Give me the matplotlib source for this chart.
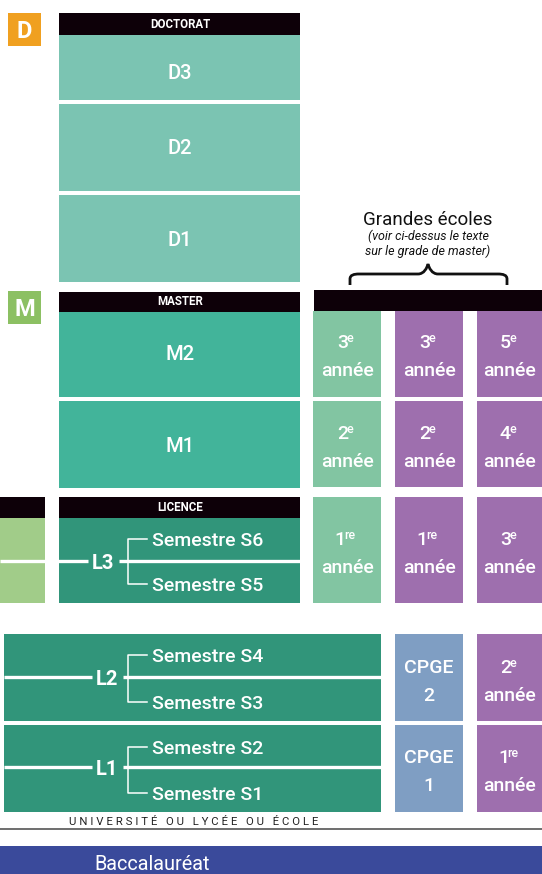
import matplotlib.pyplot as plt
from matplotlib.patches import Rectangle, PathPatch
from matplotlib.path import Path

# Textes du schema
doctorat = ['D3', 'D2', 'D1']
master = ['M2', 'M1']
licence_annees = ['L3', 'L2', 'L1']
semestres = [['Semestre S6', 'Semestre S5'],
             ['Semestre S4', 'Semestre S3'],
             ['Semestre S2', 'Semestre S1']]
ecole_vert = [('3', 'e'), ('2', 'e'), ('1', 're')]
ecole_violet1 = [('3', 'e'), ('2', 'e'), ('1', 're')]
ecole_violet2 = [('5', 'e'), ('4', 'e'), ('3', 'e'), ('2', 'e'), ('1', 're')]
cpge = ['2', '1']

plt.rcParams['font.family'] = ['Roboto', 'DejaVu Sans']
W = 'medium'

c_doc = '#7bc4b2'
c_mas = '#42b49a'
c_lic = '#31957a'
c_clair = '#a1cc89'
c_ge = '#82c5a2'
c_vio = '#9e6fae'
c_cpge = '#7f9ec3'
c_noir = '#0d0008'
c_bac = '#3a4a9b'

fig = plt.figure(figsize=(5.42, 8.74), dpi=100)
ax = fig.add_axes([0, 0, 1, 1])
ax.set_xlim(0, 542)
ax.set_ylim(874, 0)
ax.axis('off')


def boite(x0, y0, x1, y1, couleur):
    ax.add_patch(Rectangle((x0, y0), x1 - x0, y1 - y0, color=couleur, lw=0))


def annee(cx, base, num, sup):
    xs = cx + 3 - len(sup) * 2
    ax.text(xs, base, num, color='white', fontsize=14,
            fontweight=W, ha='right', va='baseline')
    ax.text(xs - 1.5, base - 6, sup, color='white', fontsize=9,
            fontweight=W, ha='left', va='baseline')
    ax.text(cx, base + 28, 'année', color='white', fontsize=14, fontweight=W,
            ha='center', va='baseline')


# badges
boite(8, 13, 41, 46, '#f0a020')
ax.text(24.5, 37.5, 'D', color='white', fontsize=17, fontweight='bold',
        ha='center', va='baseline')
boite(8, 291, 41, 324, '#8cc063')
ax.text(24.5, 315.5, 'M', color='white', fontsize=17, fontweight='bold',
        ha='center', va='baseline')

# doctorat
boite(59, 13, 300, 35, c_noir)
ax.text(180, 28, 'DOCTORAT', color='white', fontsize=8.3, fontweight='bold',
        ha='center', va='baseline')
d_y = [(35, 100), (104, 191), (195, 282)]
d_base = [79, 154, 246]
for lab, (a, b), bl in zip(doctorat, d_y, d_base):
    boite(59, a, 300, b, c_doc)
    ax.text(180, bl, lab, color='white', fontsize=14.5, fontweight=W,
            ha='center', va='baseline')

# master
boite(59, 292, 300, 312, c_noir)
ax.text(180, 305, 'MASTER', color='white', fontsize=8.3, fontweight='bold',
        ha='center', va='baseline')
m_y = [(312, 397), (401, 488)]
m_base = [360, 452]
for lab, (a, b), bl in zip(master, m_y, m_base):
    boite(59, a, 300, b, c_mas)
    ax.text(180, bl, lab, color='white', fontsize=14.5, fontweight=W,
            ha='center', va='baseline')

# grandes ecoles
ax.text(428, 225, 'Grandes écoles', color='#111111', fontsize=13.5,
        ha='center', va='baseline')
ax.text(428, 240, '(voir ci-dessus le texte', color='#111111', fontsize=9,
        style='italic', ha='center', va='baseline')
ax.text(428, 255, 'sur le grade de master)', color='#111111', fontsize=9,
        style='italic', ha='center', va='baseline')
verts = [(350, 285), (350, 279), (350, 275), (354, 274), (359, 274),
         (418, 274), (424, 274), (427, 268), (428, 264),
         (429, 268), (432, 274), (438, 274),
         (498, 274), (503, 274), (507, 275), (507, 279), (507, 285)]
codes = [Path.MOVETO, Path.LINETO, Path.CURVE4, Path.CURVE4, Path.CURVE4,
         Path.LINETO, Path.CURVE4, Path.CURVE4, Path.CURVE4,
         Path.CURVE4, Path.CURVE4, Path.CURVE4,
         Path.LINETO, Path.CURVE4, Path.CURVE4, Path.CURVE4, Path.LINETO]
ax.add_patch(PathPatch(Path(verts, codes), fill=False, ec='#111111', lw=2))
boite(314, 290, 542, 311, c_noir)

ge_y = [(311, 397), (401, 487), (497, 603)]
ge_base = [348, 439, 545]
for (n, s), (a, b), bl in zip(ecole_vert, ge_y, ge_base):
    boite(313, a, 381, b, c_ge)
    annee(347, bl, n, s)
for (n, s), (a, b), bl in zip(ecole_violet1, ge_y, ge_base):
    boite(395, a, 463, b, c_vio)
    annee(429, bl, n, s)

bas_y = [(634, 721), (725, 812)]
bas_base = [673, 763]
for (n, s), (a, b), bl in zip(ecole_violet2, ge_y + bas_y, ge_base + bas_base):
    boite(477, a, 545, b, c_vio)
    annee(510, bl, n, s)

for lab, (a, b), bl in zip(cpge, bas_y, bas_base):
    boite(395, a, 463, b, c_cpge)
    ax.text(429, bl, 'CPGE', color='white', fontsize=14, fontweight=W,
            ha='center', va='baseline')
    ax.text(429, bl + 28, lab, color='white', fontsize=14, fontweight=W,
            ha='center', va='baseline')

# licence
boite(0, 497, 45, 518, c_noir)
boite(0, 518, 45, 603, c_clair)
boite(59, 497, 300, 518, c_noir)
ax.text(180, 511, 'LICENCE', color='white', fontsize=8.3, fontweight='bold',
        ha='center', va='baseline')
boite(59, 518, 300, 603, c_lic)
boite(4, 634, 381, 721, c_lic)
boite(4, 725, 381, 812, c_lic)

l_ligne = [561, 677, 767]
l_fin = [300, 381, 381]
l_gauche = [(0, 88, 119), (4, 92, 123), (4, 92, 123)]
l_cx = [103, 107, 107]
l_acc = [(539, 584), (655, 702), (747, 793)]
for i, lab in enumerate(licence_annees):
    y = l_ligne[i]
    g0, g1, g2 = l_gauche[i]
    ax.plot([g0, g1], [y, y], color='white', lw=2.4, solid_capstyle='butt')
    ax.plot([g2, l_fin[i]], [y, y], color='white', lw=2.4, solid_capstyle='butt')
    ax.text(l_cx[i], y + 8, lab, color='white', fontsize=14.5, fontweight='bold',
            ha='center', va='baseline')
    t, b = l_acc[i]
    ax.plot([147, 128, 128, 147], [t, t, b, b], color='white', lw=1.1)
    ax.text(152, t + 7, semestres[i][0], color='white', fontsize=14,
            fontweight=W, ha='left', va='baseline')
    ax.text(152, b + 7, semestres[i][1], color='white', fontsize=14,
            fontweight=W, ha='left', va='baseline')

ax.text(194, 825, '   '.join(' '.join(m) for m in 'UNIVERSITÉ OU LYCÉE OU ÉCOLE'.split()),
        color='#222222', fontsize=8.2, ha='center', va='baseline')
ax.plot([0, 542], [829, 829], color='#555555', lw=1.2)

boite(0, 846, 542, 874, c_bac)
ax.text(94, 870.5, 'Baccalauréat', color='white', fontsize=14.3, ha='left', va='baseline')

fig.savefig('out.png', dpi=100)
